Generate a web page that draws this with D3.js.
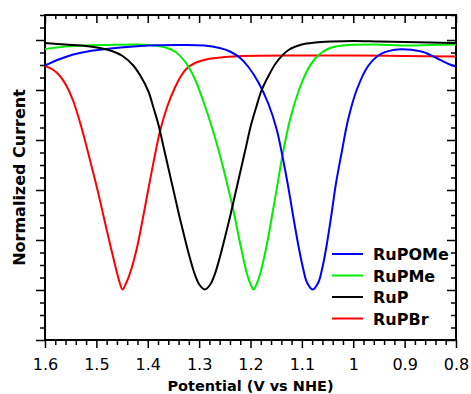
<!DOCTYPE html>
<html>
<head>
<meta charset="utf-8">
<script src="https://cdn.jsdelivr.net/npm/d3@7"></script>
<style>
  html, body { margin: 0; padding: 0; background: #fff; }
  svg { display: block; }
  text { font-family: "DejaVu Sans", "Noto Sans", sans-serif; fill: #000; }
</style>
</head>
<body>
<svg id="chart" width="471" height="394"></svg>
<script>
// Square-wave voltammograms, normalized current vs potential (V vs NHE)
const seriesNames = ["RuPOMe", "RuPMe", "RuP", "RuPBr"];
const seriesColors = ["#0000ff", "#00ee00", "#000000", "#ff0000"];

// [potential, normalized current]
const rupome = [
  [1.600, 5.49], [1.571, 5.62], [1.545, 5.71], [1.512, 5.78], [1.480, 5.82],
  [1.415, 5.88], [1.337, 5.90], [1.290, 5.89], [1.260, 5.84], [1.240, 5.77],
  [1.220, 5.64], [1.204, 5.46], [1.185, 5.16], [1.165, 4.72], [1.149, 4.21],
  [1.136, 3.58], [1.126, 3.03], [1.117, 2.48], [1.107, 1.90], [1.098, 1.45],
  [1.090, 1.15], [1.079, 1.01], [1.068, 1.15], [1.060, 1.45], [1.052, 1.88],
  [1.042, 2.54], [1.034, 3.11], [1.022, 3.78], [1.010, 4.41], [0.993, 5.01],
  [0.971, 5.48], [0.948, 5.71], [0.922, 5.80], [0.896, 5.81], [0.864, 5.76],
  [0.838, 5.64], [0.812, 5.51], [0.800, 5.47]
];
const rupme = [
  [1.600, 5.82], [1.560, 5.87], [1.520, 5.89], [1.480, 5.90], [1.420, 5.91],
  [1.385, 5.89], [1.365, 5.85], [1.347, 5.77], [1.330, 5.60], [1.310, 5.26],
  [1.290, 4.72], [1.270, 4.08], [1.255, 3.52], [1.245, 3.10], [1.233, 2.58],
  [1.220, 1.92], [1.207, 1.33], [1.200, 1.12], [1.194, 1.01], [1.188, 1.12],
  [1.181, 1.33], [1.168, 1.92], [1.156, 2.61], [1.148, 3.08], [1.138, 3.68],
  [1.123, 4.41], [1.107, 4.96], [1.090, 5.38], [1.075, 5.62], [1.060, 5.76],
  [1.045, 5.84], [1.020, 5.89], [0.960, 5.91], [0.900, 5.89], [0.850, 5.90],
  [0.800, 5.91]
];
const rup = [
  [1.600, 5.94], [1.560, 5.91], [1.520, 5.88], [1.493, 5.84], [1.470, 5.78],
  [1.449, 5.68], [1.429, 5.50], [1.414, 5.28], [1.399, 4.98], [1.389, 4.65],
  [1.379, 4.30], [1.369, 3.85], [1.359, 3.40], [1.349, 2.95], [1.339, 2.50],
  [1.329, 2.08], [1.319, 1.68], [1.309, 1.33], [1.299, 1.10], [1.289, 1.01],
  [1.279, 1.10], [1.269, 1.33], [1.259, 1.68], [1.249, 2.08], [1.239, 2.50],
  [1.229, 2.95], [1.219, 3.40], [1.209, 3.85], [1.199, 4.30], [1.189, 4.65],
  [1.179, 4.98], [1.164, 5.30], [1.149, 5.56], [1.126, 5.80], [1.100, 5.91],
  [1.074, 5.95], [1.040, 5.97], [1.000, 5.98], [0.950, 5.97], [0.900, 5.96],
  [0.850, 5.95], [0.800, 5.94]
];
const rupbr = [
  [1.600, 5.48], [1.585, 5.41], [1.571, 5.28], [1.558, 5.08], [1.545, 4.78],
  [1.529, 4.25], [1.512, 3.58], [1.498, 3.01], [1.487, 2.52], [1.473, 1.90],
  [1.460, 1.35], [1.455, 1.16], [1.449, 1.01], [1.442, 1.14], [1.435, 1.32],
  [1.422, 1.80], [1.409, 2.46], [1.399, 3.01], [1.386, 3.70], [1.376, 4.18],
  [1.361, 4.70], [1.347, 5.05], [1.337, 5.25], [1.325, 5.42], [1.308, 5.54],
  [1.282, 5.62], [1.250, 5.66], [1.217, 5.68], [1.100, 5.69], [1.000, 5.69],
  [0.900, 5.68], [0.800, 5.67]
];
const seriesData = [rupome, rupme, rup, rupbr];

// Axis ticks
const xMajorTicks = [1.6, 1.5, 1.4, 1.3, 1.2, 1.1, 1.0, 0.9, 0.8];
const xMinorStep = 0.02;
const yMajorTicks = [0, 1, 2, 3, 4, 5, 6];
const yMinorStep = 0.25;
const xTitle = "Potential (V vs NHE)";
const yTitle = "Normalized Current";

const svg = d3.select("#chart");
const plotLeft = 45, plotRight = 456, plotTop = 15, plotBottom = 340;

const x = d3.scaleLinear().domain([1.6, 0.8]).range([plotLeft, plotRight]);
const y = d3.scaleLinear().domain([0, 6.5]).range([plotBottom, plotTop]);

const xMinor = d3.range(0, 41).map(i => +(0.8 + i * xMinorStep).toFixed(2))
  .filter(v => !xMajorTicks.some(m => Math.abs(m - v) < 1e-6));
const yMinor = d3.range(0, 27).map(i => i * yMinorStep)
  .filter(v => !yMajorTicks.includes(v));

function styleAxis(g) {
  g.select(".domain").remove();
  g.selectAll(".tick line").attr("stroke", "#000").attr("stroke-width", 1.5);
}

// bottom: outward ticks with labels
svg.append("g").attr("transform", `translate(0,${plotBottom})`)
  .call(d3.axisBottom(x).tickValues(xMajorTicks).tickSize(8).tickPadding(11)
    .tickFormat(d => String(d)))
  .call(styleAxis)
  .call(g => g.selectAll("text").attr("font-size", 16)
    .attr("font-family", "DejaVu Sans, sans-serif"));
svg.append("g").attr("transform", `translate(0,${plotBottom})`)
  .call(d3.axisBottom(x).tickValues(xMinor).tickSize(5).tickFormat(""))
  .call(styleAxis);

// top: inward ticks
svg.append("g").attr("transform", `translate(0,${plotTop})`)
  .call(d3.axisBottom(x).tickValues(xMajorTicks).tickSize(8).tickFormat(""))
  .call(styleAxis);
svg.append("g").attr("transform", `translate(0,${plotTop})`)
  .call(d3.axisBottom(x).tickValues(xMinor).tickSize(4).tickFormat(""))
  .call(styleAxis);

// left: outward ticks, no labels
svg.append("g").attr("transform", `translate(${plotLeft},0)`)
  .call(d3.axisLeft(y).tickValues(yMajorTicks).tickSize(9).tickFormat(""))
  .call(styleAxis);
svg.append("g").attr("transform", `translate(${plotLeft},0)`)
  .call(d3.axisLeft(y).tickValues(yMinor).tickSize(5).tickFormat(""))
  .call(styleAxis);

// right: inward ticks
svg.append("g").attr("transform", `translate(${plotRight},0)`)
  .call(d3.axisLeft(y).tickValues(yMajorTicks).tickSize(9).tickFormat(""))
  .call(styleAxis);
svg.append("g").attr("transform", `translate(${plotRight},0)`)
  .call(d3.axisLeft(y).tickValues(yMinor).tickSize(5).tickFormat(""))
  .call(styleAxis);

// frame
svg.append("rect")
  .attr("x", plotLeft).attr("y", plotTop)
  .attr("width", plotRight - plotLeft).attr("height", plotBottom - plotTop)
  .attr("fill", "none").attr("stroke", "#000").attr("stroke-width", 2);

// curves
const line = d3.line()
  .x(d => x(d[0]))
  .y(d => y(d[1]))
  .curve(d3.curveCatmullRom.alpha(0.5));

const drawOrder = [3, 1, 0, 2];
drawOrder.forEach(i => {
  svg.append("path")
    .datum(seriesData[i])
    .attr("d", line)
    .attr("fill", "none")
    .attr("stroke", seriesColors[i])
    .attr("stroke-width", 2)
    .attr("stroke-linejoin", "round");
});

// legend
const legendY = [254, 275.5, 297, 318.5];
const legend = svg.append("g");
seriesNames.forEach((name, i) => {
  legend.append("line")
    .attr("x1", 332).attr("x2", 363)
    .attr("y1", legendY[i]).attr("y2", legendY[i])
    .attr("stroke", seriesColors[i]).attr("stroke-width", 2);
  legend.append("text")
    .attr("x", 373).attr("y", legendY[i] + 6)
    .attr("font-size", 16).attr("font-weight", "bold")
    .text(name);
});

// axis titles
svg.append("text")
  .attr("x", (plotLeft + plotRight) / 2).attr("y", 391)
  .attr("text-anchor", "middle")
  .attr("font-size", 14.5).attr("font-weight", "bold")
  .text(xTitle);

svg.append("text")
  .attr("transform", `translate(25,${(plotTop + plotBottom) / 2}) rotate(-90)`)
  .attr("text-anchor", "middle")
  .attr("font-size", 16).attr("font-weight", "bold")
  .text(yTitle);
</script>
</body>
</html>
